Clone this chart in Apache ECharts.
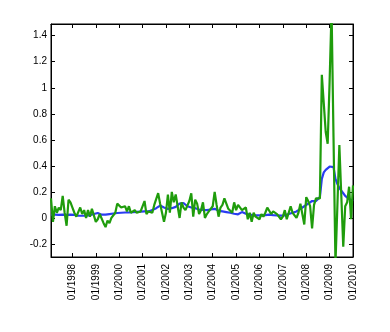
<!DOCTYPE html>
<html>
<head>
<meta charset="utf-8">
<script src="https://cdn.jsdelivr.net/npm/echarts@6/dist/echarts.min.js"></script>
<style>
  html, body { margin: 0; padding: 0; background: #fff; }
  #main { width: 390px; height: 332px; }
</style>
</head>
<body>
<div id="main"></div>
<script>
// monthly series, 02/1997 .. 01/2010
var startYear = 1997, startMonth = 2, nMonths = 156;
var months = [];
for (var i = 0; i < nMonths; i++) {
  var m = (startMonth - 1 + i) % 12 + 1;
  var y = startYear + Math.floor((startMonth - 1 + i) / 12);
  months.push((m < 10 ? '0' + m : '' + m) + '/' + y);
}

// green (noisy) series
var greenValues = [
  0.15, -0.03, 0.09, 0.04, 0.08, 0.06, 0.17, 0.04, -0.06, 0.14,
  0.12, 0.08, 0.04, 0.01, 0.02, 0.08, 0.03, 0.06, 0.00, 0.06,
  0.01, 0.07, 0.02, -0.03, -0.01, 0.03, 0.04, -0.04, -0.07, -0.02,
  -0.04, 0.00, 0.01, 0.04, 0.11, 0.10, 0.08, 0.08, 0.09, 0.05,
  0.09, 0.04, 0.05, 0.06, 0.04, 0.04, 0.05, 0.05, 0.13, 0.03,
  0.05, 0.04, 0.04, 0.10, 0.11, 0.19, 0.11, 0.04, -0.03, 0.04,
  0.18, 0.04, 0.20, 0.12, 0.18, 0.17, 0.00, 0.12, 0.08, 0.06,
  0.06, 0.13, 0.19, 0.01, 0.14, 0.11, 0.03, 0.06, 0.12, 0.00,
  0.03, 0.05, 0.06, 0.09, 0.20, 0.10, 0.01, 0.08, 0.10, 0.15,
  0.11, 0.07, 0.08, 0.04, 0.12, 0.06, 0.10, 0.11, 0.06, 0.07,
  0.08, -0.01, 0.04, -0.03, 0.04, 0.01, 0.02, -0.01, 0.03, 0.01,
  0.04, 0.08, 0.09, 0.03, 0.05, 0.04, 0.03, 0.03, -0.01, 0.01,
  0.06, -0.01, 0.00, 0.09, 0.04, 0.02, 0.00, 0.04, 0.11, 0.03,
  -0.05, 0.16, 0.13, 0.09, -0.08, 0.10, 0.15, 0.14, 0.15, 1.10,
  0.88, 0.66, 0.57, 1.05, 1.60, 0.62, -0.35, 0.10, 0.56, 0.17,
  -0.22, 0.09, 0.12, 0.24, -0.01, 0.25
];

// blue (smooth) series
var blueValues = [
  0.025, 0.025, 0.025, 0.024, 0.024, 0.025, 0.026, 0.025, 0.024, 0.024,
  0.025, 0.025, 0.024, 0.020, 0.018, 0.018, 0.017, 0.017, 0.018, 0.020,
  0.022, 0.025, 0.030, 0.040, 0.038, 0.030, 0.025, 0.022, 0.025, 0.028,
  0.030, 0.032, 0.034, 0.036, 0.038, 0.038, 0.040, 0.040, 0.042, 0.042,
  0.043, 0.045, 0.045, 0.046, 0.046, 0.047, 0.048, 0.048, 0.050, 0.050,
  0.050, 0.055, 0.060, 0.065, 0.075, 0.085, 0.095, 0.090, 0.080, 0.072,
  0.070, 0.072, 0.075, 0.078, 0.085, 0.095, 0.110, 0.125, 0.115, 0.100,
  0.090, 0.085, 0.080, 0.078, 0.075, 0.070, 0.065, 0.063, 0.062, 0.060,
  0.060, 0.060, 0.065, 0.080, 0.070, 0.060, 0.055, 0.052, 0.050, 0.048,
  0.045, 0.042, 0.040, 0.035, 0.032, 0.030, 0.028, 0.035, 0.045, 0.040,
  0.032, 0.028, 0.025, 0.022, 0.020, 0.020, 0.020, 0.020, 0.020, 0.020,
  0.022, 0.024, 0.025, 0.024, 0.022, 0.020, 0.020, 0.018, 0.018, 0.018,
  0.020, 0.025, 0.030, 0.035, 0.040, 0.045, 0.050, 0.060, 0.070, 0.080,
  0.090, 0.100, 0.110, 0.125, 0.130, 0.130, 0.130, 0.140, 0.160, 0.300,
  0.350, 0.370, 0.385, 0.395, 0.400, 0.390, 0.300, 0.260, 0.230, 0.210,
  0.190, 0.170, 0.155, 0.145, 0.135, 0.130
];

var yTicks = [-0.2, 0, 0.2, 0.4, 0.6, 0.8, 1, 1.2, 1.4];
var yMin = -0.3, yMax = 1.49;

function isJan(idx) { return months[idx].indexOf('01/') === 0; }

var chart = echarts.init(document.getElementById('main'));
chart.setOption({
  animation: false,
  textStyle: { fontFamily: 'Liberation Sans, Arial, sans-serif' },
  grid: { left: 51, right: 37, top: 24, bottom: 75, show: true,
    borderColor: '#000', borderWidth: 1, backgroundColor: 'transparent' },
  xAxis: [{
    type: 'category',
    data: months,
    boundaryGap: false,
    position: 'bottom',
    axisLine: { onZero: false, lineStyle: { color: '#000', width: 1 } },
    axisTick: { inside: true, length: 4, interval: isJan, lineStyle: { color: '#000' } },
    axisLabel: { interval: isJan, rotate: 90, fontSize: 10, color: '#000', margin: 7 },
    splitLine: { show: false }
  }, {
    type: 'category',
    data: months,
    boundaryGap: false,
    position: 'top',
    axisLine: { onZero: false, lineStyle: { color: '#000', width: 1 } },
    axisTick: { inside: true, length: 4, interval: isJan, lineStyle: { color: '#000' } },
    axisLabel: { show: false },
    splitLine: { show: false }
  }],
  yAxis: [{
    type: 'value',
    min: yMin,
    max: yMax,
    position: 'left',
    axisLine: { show: true, onZero: false, lineStyle: { color: '#000', width: 1 } },
    axisTick: { show: true, inside: true, length: 4, customValues: yTicks, lineStyle: { color: '#000' } },
    axisLabel: { customValues: yTicks, fontSize: 10, color: '#000', margin: 4,
      formatter: function (v) { return String(v); } },
    splitLine: { show: false }
  }, {
    type: 'value',
    min: yMin,
    max: yMax,
    position: 'right',
    axisLine: { show: true, onZero: false, lineStyle: { color: '#000', width: 1 } },
    axisTick: { show: true, inside: true, length: 4, customValues: yTicks, lineStyle: { color: '#000' } },
    axisLabel: { show: false },
    splitLine: { show: false }
  }],
  series: [{
    name: 'blue',
    type: 'line',
    xAxisIndex: 0,
    yAxisIndex: 0,
    data: blueValues,
    showSymbol: false,
    symbol: 'none',
    clip: true,
    lineStyle: { color: '#2a3cf2', width: 2.2 },
    itemStyle: { color: '#2a3cf2' }
  }, {
    name: 'green',
    type: 'line',
    xAxisIndex: 1,
    yAxisIndex: 1,
    data: greenValues,
    showSymbol: false,
    symbol: 'none',
    clip: true,
    lineStyle: { color: '#1f9c0c', width: 2.2 },
    itemStyle: { color: '#1f9c0c' }
  }]
});
</script>
</body>
</html>
